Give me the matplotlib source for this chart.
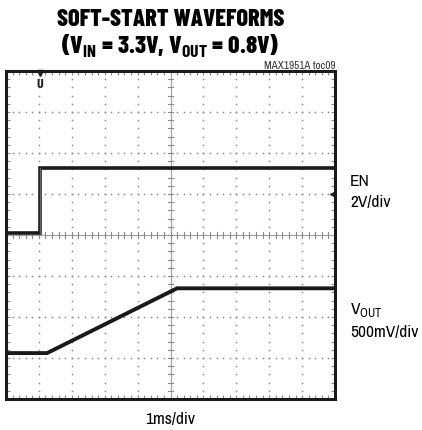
import matplotlib.pyplot as plt
import numpy as np
from matplotlib import font_manager

# scope traces, x in ms (1ms/div), y in screen divisions
en_t = [0.0, 1.04, 1.04, 10.0]
en_div = [4.05, 4.05, 5.63, 5.63]
vout_t = [0.0, 1.25, 5.2, 10.0]
vout_div = [1.12, 1.12, 2.7, 2.7]

trigger_t = 1.04
trigger_level = 5.0

title_lines = ["SOFT-START WAVEFORMS", r"(V$_{\mathbf{IN}}$ = 3.3V, V$_{\mathbf{OUT}}$ = 0.8V)"]


def pick(*fams):
    names = {f.name for f in font_manager.fontManager.ttflist}
    for fam in fams:
        if fam in names:
            return fam
    return "DejaVu Sans"


body = pick("Archivo Narrow", "Barlow Condensed", "Liberation Sans Narrow")
heavy = pick("Barlow Condensed", "Archivo Narrow")
plt.rcParams["font.family"] = [body, "DejaVu Sans"]
plt.rcParams["mathtext.fontset"] = "custom"
plt.rcParams["mathtext.rm"] = body
plt.rcParams["mathtext.bf"] = heavy + ":bold"

W, H = 422, 431
fig = plt.figure(figsize=(W / 100, H / 100), dpi=100)
ax = fig.add_axes([6 / W, (H - 400) / H, 329 / W, 328 / H])
ax.set_xlim(0, 10)
ax.set_ylim(0, 8)

grid_c = "#8a8a8a"
# dotted graticule
for gx in range(1, 10):
    if gx == 5:
        continue
    ys = np.arange(0, 8.01, 0.2)
    ax.plot(np.full_like(ys, gx), ys, ls="none", marker="s", ms=1.1, color=grid_c, mew=0)
for gy in range(1, 8):
    if gy == 4:
        continue
    xs = np.arange(0, 10.01, 0.2)
    ax.plot(xs, np.full_like(xs, gy), ls="none", marker="s", ms=1.1, color=grid_c, mew=0)

# centre cross with small ticks
ax.axvline(5, color="#a0a0a0", lw=0.8)
ax.axhline(4, color="#a0a0a0", lw=0.8)
for yy in np.arange(0.2, 8, 0.2):
    ax.plot([4.92, 5.08], [yy, yy], color=grid_c, lw=0.8)
for xx in np.arange(0.2, 10, 0.2):
    ax.plot([xx, xx], [3.92, 4.08], color=grid_c, lw=0.8)

# traces
ax.plot(en_t, en_div, color="#1a1a1a", lw=2.6, solid_joinstyle="miter")
ax.plot(en_t[1:3], en_div[1:3], color="#666666", lw=1.0)
ax.plot(vout_t, vout_div, color="#1a1a1a", lw=2.8)

# markers
ax.plot([trigger_t], [7.94], marker="v", ms=5, color="#222222", clip_on=False)
ax.text(trigger_t, 7.7, "U", ha="center", va="center", fontsize=10, fontweight="bold",
        family=heavy, color="#222222")
ax.plot([9.93], [trigger_level], marker="<", ms=4, color="#222222")

# frame ticks
ax.set_xticks(np.arange(0, 10.01, 1))
ax.set_yticks(np.arange(0, 8.01, 1))
ax.set_xticks(np.arange(0, 10.01, 0.2), minor=True)
ax.set_yticks(np.arange(0, 8.01, 0.2), minor=True)
ax.tick_params(which="both", direction="in", top=True, right=True, labelbottom=False, labelleft=False,
               color=grid_c, width=0.8, length=3)
for s in ax.spines.values():
    s.set_linewidth(2.2)
    s.set_color("#1a1a1a")

# texts
fig.text(171 / W, 1 - 20 / H, title_lines[0], ha="center", va="center", fontsize=17.5,
         fontweight=800, family=heavy)
fig.text(170 / W, 1 - 46 / H, title_lines[1], ha="center", va="center", fontsize=18,
         fontweight=800, family=heavy)
fig.text(335 / W, 1 - 66 / H, "MAX1951A toc09", ha="right", va="center", fontsize=8, color="#333333")
fig.text(350 / W, 1 - 182 / H, "EN", ha="left", va="center", fontsize=12.5)
fig.text(350 / W, 1 - 203 / H, "2V/div", ha="left", va="center", fontsize=12.5)
fig.text(350 / W, 1 - 310 / H, r"V$_{\mathrm{OUT}}$", ha="left", va="center", fontsize=12.5)
fig.text(350 / W, 1 - 332 / H, "500mV/div", ha="left", va="center", fontsize=12.5)
fig.text(170 / W, 1 - 420 / H, "1ms/div", ha="center", va="center", fontsize=12.5)

fig.savefig("out.png", dpi=100)
